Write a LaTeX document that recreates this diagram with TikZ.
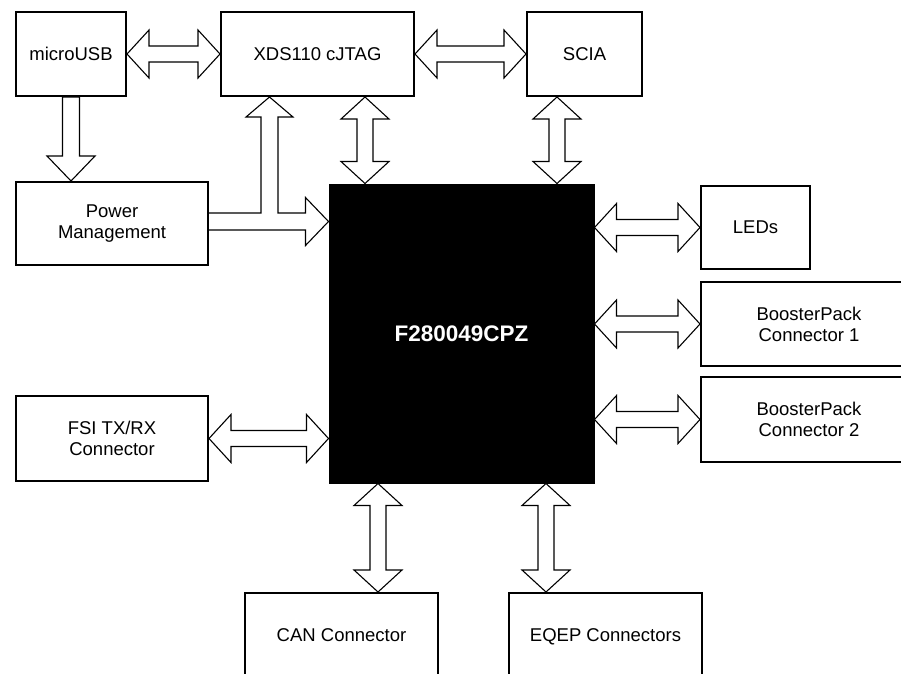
\documentclass[tikz,border=0pt]{standalone}
\usepackage{fontspec}
\setmainfont{Liberation Sans}
\usetikzlibrary{calc}
\tikzset{
  box/.style={draw=black, line width=2pt, fill=white, inner sep=0pt, align=center,
    font=\fontsize{18.5}{21}\selectfont},
  chipbox/.style={draw=black, fill=black, line width=1pt, inner sep=0pt, text=white,
    font=\fontsize{22.5}{26}\selectfont\bfseries},
  arr/.style={draw=black, fill=white, line width=1.1pt, line join=miter}
}
% horizontal double block arrow: left tip #1, right tip #2
\newcommand\harr[2]{\draw[arr] let \p1=(#1), \p2=(#2) in
  (\x1,\y1) -- ++(22pt,24pt) -- ++(0pt,-16pt) -- ({\x2-22pt},{\y1+8pt}) -- ++(0pt,16pt)
  -- (\x2,\y1) -- ++(-22pt,-24pt) -- ++(0pt,16pt) -- ({\x1+22pt},{\y1-8pt}) -- ++(0pt,-16pt) -- cycle;}
% vertical double block arrow: top tip #1, bottom tip #2
\newcommand\varr[2]{\draw[arr] let \p1=(#1), \p2=(#2) in
  (\x1,\y1) -- ++(24pt,-22pt) -- ++(-16pt,0pt) -- ({\x1+8pt},{\y2+22pt}) -- ++(16pt,0pt)
  -- (\x1,\y2) -- ++(-24pt,22pt) -- ++(16pt,0pt) -- ({\x1-8pt},{\y1-22pt}) -- ++(-16pt,0pt) -- cycle;}
\begin{document}
\begin{tikzpicture}[x=1pt,y=-1pt]
\useasboundingbox (0,0) rectangle (901,673);
\clip (0,0) rectangle (901,673);
\fill[white] (0,0) rectangle (901,673);

% nodes
\node[box, minimum width=110, minimum height=84] (usb) at (71,54) {microUSB};
\node[box, minimum width=193, minimum height=84] (xds) at (317.5,54) {XDS110 cJTAG};
\node[box, minimum width=115, minimum height=84] (scia) at (584.5,54) {SCIA};
\node[box, minimum width=192, minimum height=83] (pm) at (112,223.5) {Power\\Management};
\node[chipbox, minimum width=265, minimum height=299] (chip) at (461.5,333.5) {F280049CPZ};
\node[box, minimum width=109, minimum height=83] (leds) at (755.5,227.5) {LEDs};
\node[box, minimum width=216, minimum height=84] (bp1) at (809,324) {BoosterPack\\Connector 1};
\node[box, minimum width=216, minimum height=85] (bp2) at (809,419.5) {BoosterPack\\Connector 2};
\node[box, minimum width=192, minimum height=85] (fsi) at (112,438.5) {FSI TX/RX\\Connector};
\node[box, minimum width=193, minimum height=84] (can) at (341.5,635) {CAN Connector};
\node[box, minimum width=193, minimum height=84, text depth=0pt] (eqep) at (605.5,635) {EQEP Connectors};

% reference coordinates for arrow axes
\coordinate (cx1) at (365,0);
\coordinate (cx2) at (557,0);
\coordinate (cx3) at (378,0);
\coordinate (cx4) at (546,0);
\coordinate (ta) at (269.5,0);
\coordinate (tb) at (0,221.5);

% horizontal double arrows
\harr{usb.east}{xds.west}
\harr{xds.east}{scia.west}
\harr{chip.east |- leds.west}{leds.west}
\harr{chip.east |- bp1.west}{bp1.west}
\harr{chip.east |- bp2.west}{bp2.west}
\harr{fsi.east}{chip.west |- fsi.east}

% vertical double arrows
\varr{xds.south -| cx1}{chip.north -| cx1}
\varr{scia.south -| cx2}{chip.north -| cx2}
\varr{chip.south -| cx3}{can.north -| cx3}
\varr{chip.south -| cx4}{eqep.north -| cx4}

% microUSB -> Power Management
\draw[arr] let \p1=(usb.south), \p2=(pm.north -| usb.south) in
  ({\x1-8.5pt},\y1) -- ({\x1-8.5pt},{\y2+25pt}) -- ({\x1-24pt},{\y2+25pt}) -- (\x1,\y2)
  -- ({\x1+24pt},{\y2+25pt}) -- ({\x1+8.5pt},{\y2+25pt}) -- ({\x1+8.5pt},\y1) -- cycle;

% Power Management -> XDS110 and F280049CPZ (branched arrow)
\draw[arr] let \p1=(pm.east), \p2=(xds.south -| ta), \p3=(chip.west |- tb) in
  (\x1,{\y3+8.5pt}) -- ({\x2-8.5pt},{\y3+8.5pt}) -- ({\x2-8.5pt},{\y2-20pt})
  -- ({\x2-23.5pt},{\y2-20pt}) -- (\x2,\y2) -- ({\x2+23.5pt},{\y2-20pt})
  -- ({\x2+8.5pt},{\y2-20pt}) -- ({\x2+8.5pt},{\y3+8.5pt}) -- ({\x3-23pt},{\y3+8.5pt})
  -- ({\x3-23pt},{\y3+24pt}) -- (\x3,\y3) -- ({\x3-23pt},{\y3-24pt})
  -- ({\x3-23pt},{\y3-8.5pt}) -- (\x1,{\y3-8.5pt});
\end{tikzpicture}
\end{document}
